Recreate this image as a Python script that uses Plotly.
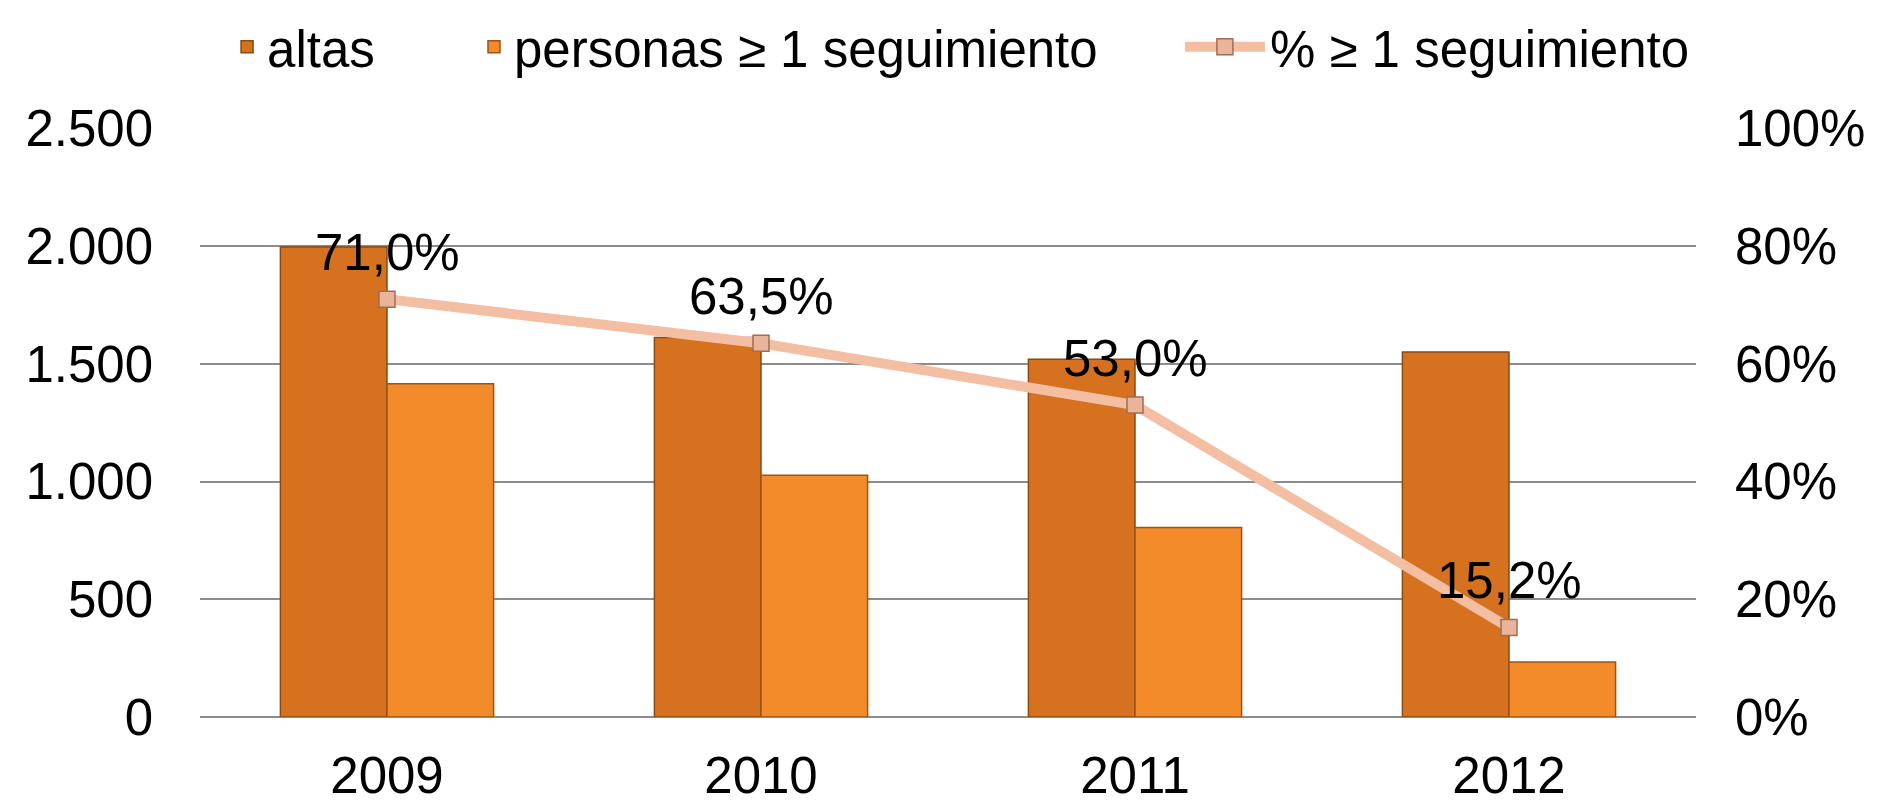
import plotly.graph_objects as go

years = ["2009", "2010", "2011", "2012"]
altas = [1996, 1612, 1520, 1551]
personas = [1416, 1027, 805, 234]
pct_seguimiento = [0.710, 0.635, 0.530, 0.152]

font_family = "Liberation Sans, Arial, sans-serif"
fsize = 51

fig = go.Figure()

fig.add_trace(go.Bar(
    x=years, y=altas, name="altas", legend="legend",
    marker=dict(color="#D6721F", line=dict(color="#8A4A14", width=1.5)),
))
fig.add_trace(go.Bar(
    x=years, y=personas, name="personas ≥ 1 seguimiento", legend="legend2",
    marker=dict(color="#F38B2B", line=dict(color="#9A5418", width=1.5)),
))
fig.add_trace(go.Scatter(
    x=years, y=pct_seguimiento, name="% ≥ 1 seguimiento", legend="legend3",
    yaxis="y2", mode="lines+markers",
    line=dict(color="#F4BEA2", width=10),
    marker=dict(symbol="square", size=16, color="#E9B49A",
                line=dict(color="#A06C55", width=1.5)),
))

# data labels above the line points (category index on the x axis)
for i, p in enumerate(pct_seguimiento):
    fig.add_annotation(
        x=i, y=p, xref="x", yref="y2", yshift=47, showarrow=False,
        text=f"{p * 100:.1f}%".replace(".", ","),
        font=dict(size=fsize, color="#000000", family=font_family),
    )

legend_common = dict(
    orientation="h", xref="container", yref="container",
    y=0.9516, yanchor="middle", xanchor="left",
    font=dict(size=fsize), bgcolor="rgba(0,0,0,0)",
)

fig.update_layout(
    width=1882, height=806,
    margin=dict(l=192, r=194, t=120, b=97),
    separators=",.",
    barmode="group", bargap=0.43, bargroupgap=0,
    paper_bgcolor="white", plot_bgcolor="white",
    font=dict(family=font_family, size=fsize, color="#000000"),
    showlegend=True,
    legend=dict(legend_common, x=0.1164),
    legend2=dict(legend_common, x=0.2476),
    legend3=dict(legend_common, x=0.6227, itemwidth=80),
    xaxis=dict(
        type="category", categoryorder="array", categoryarray=years,
        range=[-0.5, len(years) - 0.5],
        showgrid=False, showline=False, ticks="",
        tickfont=dict(size=fsize), ticklabelstandoff=24, automargin=False,
    ),
    yaxis=dict(
        range=[0, 2502], tickvals=[0, 500, 1000, 1500, 2000, 2500],
        tickformat=",d",
        showgrid=True, gridcolor="#8C8C8C", gridwidth=2,
        zeroline=True, zerolinecolor="#8C8C8C", zerolinewidth=2,
        showline=False, ticks="", ticklabelstandoff=46,
        tickfont=dict(size=fsize), automargin=False,
    ),
    yaxis2=dict(
        overlaying="y", side="right", range=[0, 2502 / 2500],
        tickvals=[0, 0.2, 0.4, 0.6, 0.8, 1.0],
        tickformat=".0%", showgrid=False, zeroline=False, showline=False,
        ticks="", ticklabelstandoff=38, tickfont=dict(size=fsize),
        automargin=False,
    ),
)

fig.write_html("out.html")
